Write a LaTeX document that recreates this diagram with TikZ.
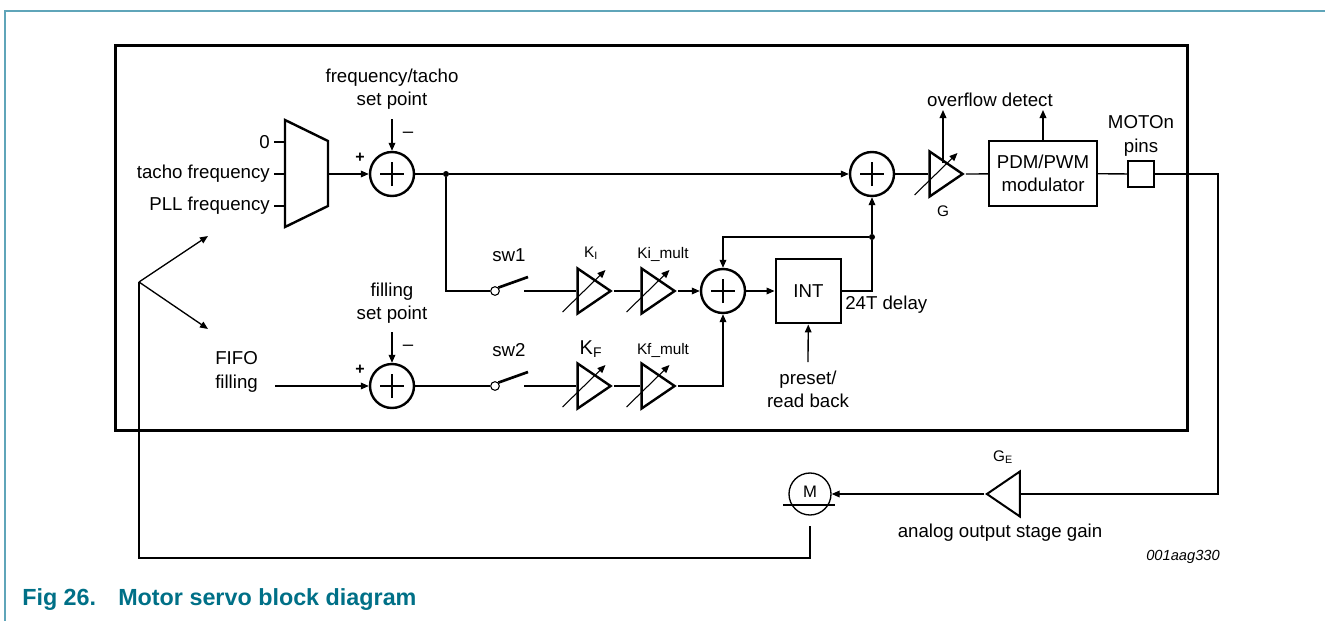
\documentclass[tikz,border=0pt]{standalone}
\usepackage{fontspec}
\setmainfont{Liberation Sans}
\usetikzlibrary{arrows.meta, calc, positioning, shapes.geometric}

\definecolor{frameteal}{RGB}{95,165,185}
\definecolor{captionteal}{RGB}{0,112,135}

\tikzset{
  sumnode/.style={circle, draw, line width=1.8pt, minimum size=33pt, inner sep=0pt,
    path picture={\draw[line width=0.8pt]
      ([xshift=-9pt]path picture bounding box.center) -- ([xshift=9pt]path picture bounding box.center)
      ([yshift=-9pt]path picture bounding box.center) -- ([yshift=9pt]path picture bounding box.center);}},
  ampnode/.style={isosceles triangle, isosceles triangle stretches, draw, line width=1.8pt,
    minimum width=33.75pt, minimum height=24.75pt, inner sep=0pt},
  blockbox/.style={draw, line width=1.8pt, inner sep=0pt, align=center, font=\fontsize{14}{17}\selectfont},
  swdot/.style={circle, draw, line width=0.8pt, minimum size=6.5pt, inner sep=0pt, fill=white},
  joindot/.style={circle, fill, minimum size=4.5pt, inner sep=0pt},
  lbl/.style={font=\fontsize{14}{17.5}\selectfont, align=center, inner sep=0pt},
  smalllbl/.style={font=\fontsize{11.5}{13}\selectfont, inner sep=0pt},
  wire/.style={line width=1pt},
  sig/.style={line width=1pt, -{Triangle[length=6pt,width=5pt]}},
  lever/.style={line width=2pt},
}

\begin{document}
\begin{tikzpicture}[x=0.75pt, y=-0.75pt]
  \useasboundingbox (0,0) rectangle (1325,621);

  % frame and caption
  \draw[frameteal, line width=1.5pt] (5,621) -- (5,11) -- (1325,11);
  \node[anchor=west, inner sep=0pt, text=captionteal, font=\fontsize{17.5}{20}\selectfont\bfseries] (fignum) at (22,600) {Fig 26.};
  \node[anchor=west, inner sep=0pt, text=captionteal, font=\fontsize{17.5}{20}\selectfont\bfseries] (figtitle) at (118,600) {Motor servo block diagram};

  % chip boundary
  \draw[line width=2.25pt] (115,45) rectangle (1187,430);

  % input selector
  \coordinate (muxA) at (285,120);
  \coordinate (muxB) at (328,141);
  \coordinate (muxC) at (328,206);
  \coordinate (muxD) at (285,227);
  \draw[line width=1.8pt, line join=miter] (muxA) -- (muxB) -- (muxC) -- (muxD) -- cycle;
  \coordinate (muxout) at (328,174);
  \coordinate (inzero) at (285,142);
  \coordinate (intacho) at (285,174);
  \coordinate (inpll) at (285,206);
  \node[lbl, anchor=east] (lzero) at (270,142) {0};
  \node[lbl, anchor=east] (ltacho) at (270,174) {tacho frequency};
  \node[lbl, anchor=east] (lpll) at (270,206) {PLL frequency};
  \draw[wire] (lzero.east) ++(4,0) -- (inzero);
  \draw[wire] (ltacho.east) ++(4,0) -- (intacho);
  \draw[wire] (lpll.east) ++(4,0) -- (inpll);

  % summing points
  \node[sumnode] (sumA) at (392,174) {};
  \node[sumnode] (sumB) at (392,386) {};
  \node[sumnode] (sumC) at (723,291) {};
  \node[sumnode] (sumD) at (872,174) {};

  \node[lbl] (lfreqset) at (392,89) {frequency/tacho\\set point};
  \coordinate (freqset) at (392,119);
  \node[lbl] at (408,135) {--};
  \node[lbl, font=\fontsize{12}{14}\selectfont\bfseries] at (360,158) {+};
  \node[lbl] (lfillset) at (392,303) {filling\\set point};
  \coordinate (fillset) at (392,332);
  \node[lbl] at (408,348) {--};
  \node[lbl, font=\fontsize{12}{14}\selectfont\bfseries] at (360,370) {+};
  \node[lbl, align=left, anchor=west] (lfifo) at (215,372) {FIFO\\filling};
  \coordinate (fifo) at (275,386);

  % switches
  \node[swdot] (swA) at (495,291) {};
  \node[swdot] (swB) at (495,386) {};
  \node[lbl] at (509,255) {sw1};
  \node[lbl] at (509,350) {sw2};
  \draw[lever] (swA.north east) -- (528,277);
  \draw[lever] (swB.north east) -- (528,372);
  \coordinate (swAout) at (524,291);
  \coordinate (swBout) at (524,386);

  % gain stages
  \node[ampnode] (kI) at (589.5,291) {};
  \node[ampnode] (kImult) at (653.5,291) {};
  \node[ampnode] (kF) at (589.5,386) {};
  \node[ampnode] (kFmult) at (653.5,386) {};
  \node[ampnode] (gainG) at (941.5,174) {};
  \node[ampnode, shape border rotate=180, line width=1.5pt] (gainE) at (1008,494) {};
  \foreach \k in {kI, kImult, kF, kFmult, gainG}
    \draw[line width=0.8pt, -{Triangle[length=6pt,width=5pt]}] ($(\k.center)+(-27,21)$) -- ($(\k.center)+(16,-21)$);

  \node[inner sep=0pt, font=\fontsize{11.5}{13}\selectfont] at (591,253) {K$_{\mathrm{I}}$};
  \node[smalllbl] at (663,254) {Ki\_mult};
  \node[inner sep=0pt, font=\fontsize{15}{17}\selectfont] at (591,349) {K\textsubscript{F}};
  \node[smalllbl] at (663,350) {Kf\_mult};
  \node[smalllbl] at (943,211) {G};
  \node[smalllbl] at (1003,457) {G\textsubscript{E}};

  % integrator
  \node[blockbox, minimum width=48.75pt, minimum height=48pt, line width=2.2pt] (intbox) at (808.5,291) {INT};
  \node[lbl, anchor=west] (ldelay) at (845,305) {24T delay};
  \node[lbl] (lpreset) at (808,389) {preset/\\read back};
  \coordinate (preset) at (808,362);

  % modulator and pins
  \node[blockbox, minimum width=81pt, minimum height=48.75pt] (pdm) at (1043,173.5) {PDM/PWM\\modulator};
  \node[draw, line width=1.8pt, minimum size=19.5pt, inner sep=0pt] (pin) at (1141,174) {};
  \node[lbl] (lpin) at (1141,136) {MOTOn\\pins};
  \node[lbl] (lovf) at (990,100) {overflow detect};
  \coordinate (ovfG) at (943,110);
  \coordinate (ovfPdm) at (1043,110);

  % junctions
  \node[joindot] (jA) at (446,174) {};
  \node[joindot] (jB) at (872,237) {};
  \coordinate (pinout) at (1218,174);

  % motor
  \node[circle, draw, line width=1pt, minimum size=31.5pt, inner sep=0pt, font=\fontsize{12.5}{14}\selectfont] (motor) at (810,494) {\raisebox{3pt}{M}};
  \draw[line width=1pt] (783,505) -- (835,505);
  \node[lbl] (lgain) at (1000,533) {analog output stage gain};
  \node[anchor=east, inner sep=0pt, font=\fontsize{11}{13}\selectfont\itshape] (figid) at (1220,557) {001aag330};
  \coordinate (mbot) at (810,526);
  \coordinate (fbcorner) at (139,558);
  \coordinate (fb) at (139,282);
  \coordinate (fbup) at (208,236);
  \coordinate (fbdown) at (208,329);

  % upper signal path
  \draw[sig] (muxout) -- (sumA);
  \draw[sig] (freqset) -- (sumA);
  \draw[wire] (sumA) -- (jA);
  \draw[sig] (jA) -- (sumD);
  \draw[wire] (jA) |- (swA);
  \draw[wire] (swAout) -- (kI);
  \draw[wire] (kI.apex) -- (kImult);
  \draw[sig] (kImult.apex) -- (sumC);
  \draw[sig] (sumC) -- (intbox);
  \draw[wire] (intbox.east) -| (jB);
  \draw[sig] (jB) -- (sumD);
  \draw[sig] (jB) -| (sumC);
  \draw[sig] (preset) -- (intbox);

  % lower signal path
  \draw[sig] (fifo) -- (sumB);
  \draw[sig] (fillset) -- (sumB);
  \draw[wire] (sumB) -- (swB);
  \draw[wire] (swBout) -- (kF);
  \draw[wire] (kF.apex) -- (kFmult);
  \draw[sig] (kFmult.apex) -| (sumC);

  % output path
  \draw[wire] (sumD) -- (gainG);
  \draw[wire] (gainG.apex) -- (pdm);
  \draw[sig] ($(gainG.center)+(1.5,-11)$) -- (ovfG);
  \draw[sig] (pdm) -- (ovfPdm);
  \draw[wire] (pdm) -- (pin);
  \draw[wire] (pin) -- (pinout) |- (gainE.east);
  \draw[sig] (gainE.apex) -- (motor);

  % feedback
  \draw[wire] (mbot) |- (fbcorner) -- (fb);
  \draw[sig] (fb) -- (fbup);
  \draw[sig] (fb) -- (fbdown);
\end{tikzpicture}
\end{document}
